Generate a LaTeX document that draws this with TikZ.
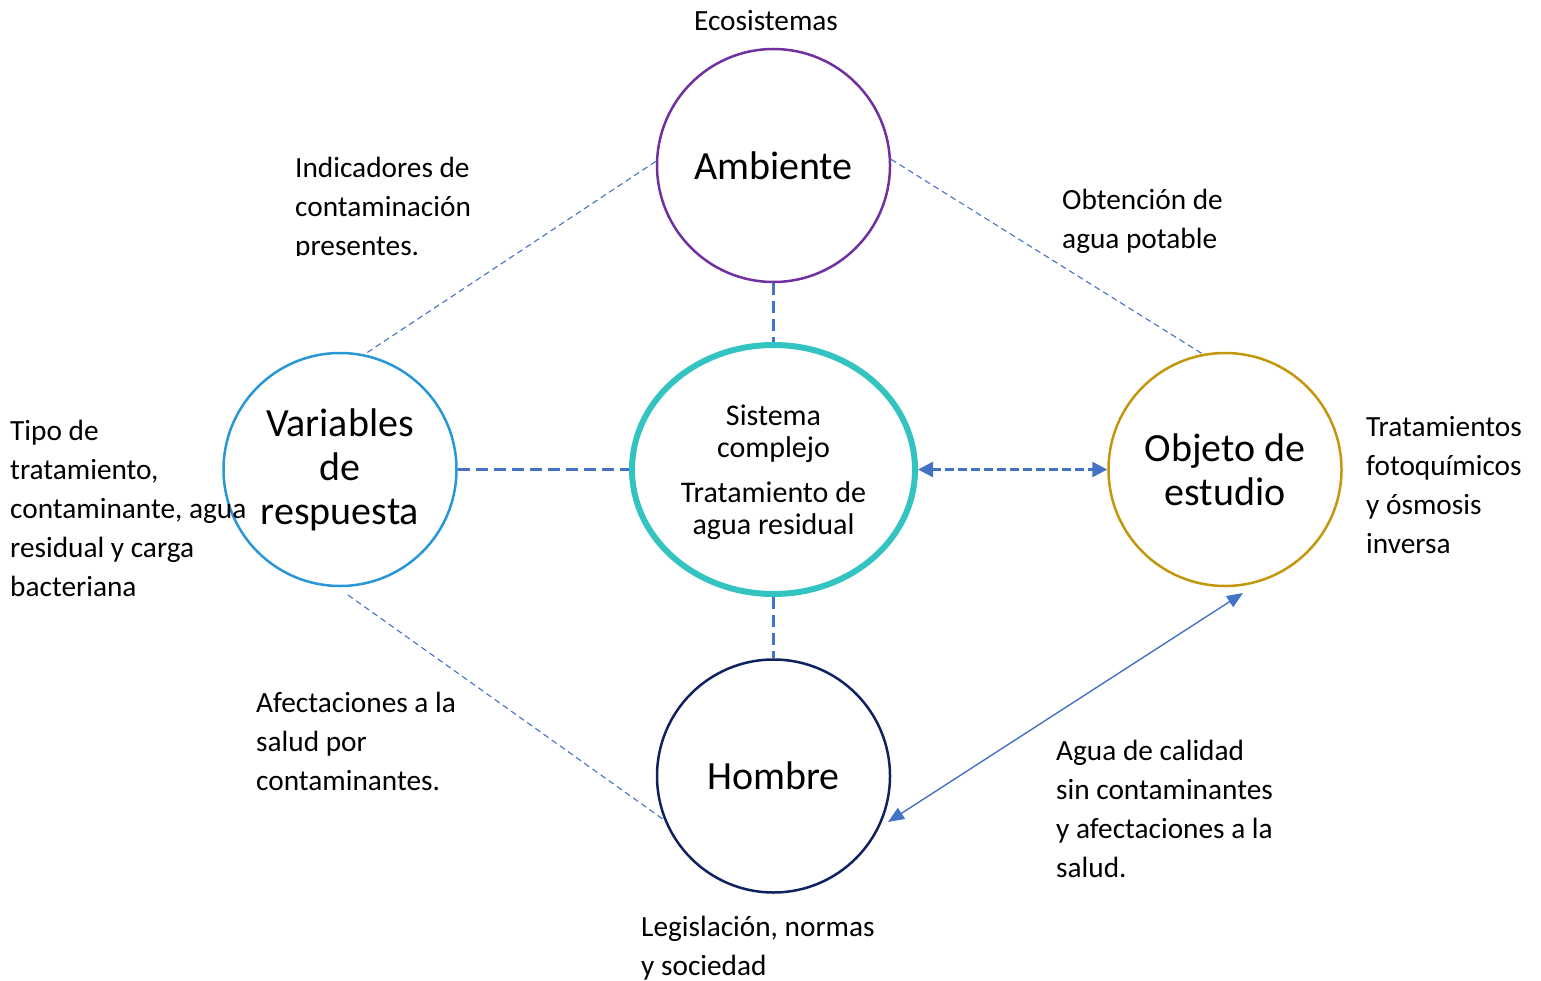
\documentclass[tikz,border=0pt]{standalone}
\usepackage{fontspec}
\setmainfont{Carlito}
\usetikzlibrary{shapes.geometric,arrows.meta}
\definecolor{cAmb}{HTML}{7030A0}
\definecolor{cVar}{HTML}{2996D8}
\definecolor{cSis}{HTML}{33C3C0}
\definecolor{cObj}{HTML}{C4960C}
\definecolor{cHom}{HTML}{0E2260}
\definecolor{cCon}{HTML}{4472C4}
\tikzset{
  circ/.style={circle, minimum size=233, inner sep=0, line width=2.5, align=center, font=\fontsize{40}{44}\selectfont},
  lbl/.style={font=\fontsize{29.3}{39}\selectfont, align=left, inner sep=0, anchor=base west},
  conn/.style={draw=cCon, line width=2.6, dash pattern=on 12pt off 6pt},
  arrconn/.style={draw=cCon, line width=2.6, dash pattern=on 9pt off 4pt, {Triangle[length=15pt,width=15pt]}-{Triangle[length=15pt,width=15pt]}},
  thinconn/.style={draw=cCon, line width=1.1, dash pattern=on 6pt off 4pt},
  solidarr/.style={draw=cCon, line width=1.4, fill=cCon, {Triangle[length=16pt,width=13pt]}-{Triangle[length=16pt,width=13pt]}},
}
\begin{document}
\begin{tikzpicture}[x=1pt,y=-1pt]
\path[use as bounding box] (0,0) rectangle (1541,981);

% circles
\node[circ, draw=cAmb] (amb) at (773.5,165.5) {Ambiente};
\node[circ, draw=cVar] (var) at (340,469.5) {Variables\\de\\respuesta};
\node[circ, draw=cObj] (obj) at (1225,469.5) {Objeto de\\estudio};
\node[circ, draw=cHom] (hom) at (773.5,776) {Hombre};
\node[ellipse, draw=cSis, line width=6, minimum width=283, minimum height=249, inner sep=0] (sis) at (773.5,469.5) {};
\node[align=center, inner sep=0, font=\fontsize{30}{32}\selectfont] (sistxt) at (773.5,472) {Sistema\\complejo\\[13pt]Tratamiento de\\agua residual};

% connectors
\draw[conn] (amb.south) -- (sis.north);
\draw[conn] (sis.south) -- (hom.north);
\draw[conn] (var.east) -- (sis.west);
\draw[arrconn] (sis.east) -- (obj.west);
\draw[thinconn] (amb.178) -- (var.78);
\draw[thinconn] (amb.3) -- (obj.101);
\coordinate (v1) at (348,595);
\draw[thinconn] (v1) -- (hom.202);
\coordinate (h1) at (888,822);
\coordinate (o1) at (1243,593);
\draw[solidarr] (h1) -- (o1);

% labels (anchor = baseline of last line)
\node[font=\fontsize{29.3}{39}\selectfont, inner sep=0, anchor=base] (eco) at (766,31) {Ecosistemas};
\begin{scope}
\clip (285,140) rectangle (490,256);
\node[lbl] (ind) at (295,256) {Indicadores de\\contaminación\\presentes.};
\end{scope}
\node[lbl] (obt) at (1062,249) {Obtención de\\agua potable};
\node[lbl] (tipo) at (10,596) {Tipo de\\tratamiento,\\contaminante, agua\\residual y carga\\bacteriana};
\node[lbl] (trat) at (1366,553) {Tratamientos\\fotoquímicos\\y ósmosis\\inversa};
\node[lbl] (afe) at (256,790) {Afectaciones a la\\salud por\\contaminantes.};
\node[lbl] (agua) at (1056,877) {Agua de calidad\\sin contaminantes\\y afectaciones a la\\salud.};
\node[lbl] (leg) at (641,975) {Legislación, normas\\y sociedad};
\end{tikzpicture}
\end{document}
